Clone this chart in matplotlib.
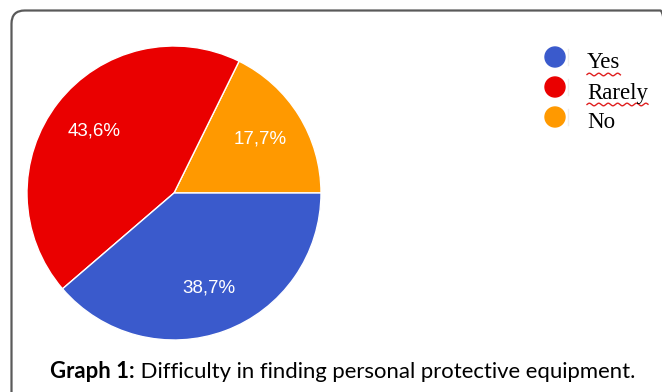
import numpy as np
import matplotlib.pyplot as plt
from matplotlib.patches import FancyBboxPatch, Ellipse

# данные
labels = ['No', 'Rarely', 'Yes']
values = [17.7, 43.6, 38.7]
colors = ['#ff9900', '#ea0000', '#3a5acc']
legend_order = ['Yes', 'Rarely', 'No']
caption_bold = 'Graph 1:'
caption_text = ' Difficulty in finding personal protective equipment.'

W, H = 662, 392
fig = plt.figure(figsize=(W / 100, H / 100), dpi=100)

# рамка со скругленным углом
frame = FancyBboxPatch((11.5 / W, -0.2), 1.0, (H - 10.5) / H + 0.2,
                       boxstyle='round,pad=0,rounding_size=0.02',
                       transform=fig.transFigure, fill=False,
                       edgecolor='#5a5a5a', linewidth=1.6, mutation_aspect=W / H)
fig.patches.append(frame)

# круговая диаграмма
cx, cy, r = 174, 193, 147
ax = fig.add_axes([(cx - r) / W, (H - cy - r) / H, 2 * r / W, 2 * r / H])
wedges, texts, autotexts = ax.pie(
    values, colors=colors, startangle=0, counterclock=True,
    autopct=lambda p: f'{p:.1f}%'.replace('.', ','), pctdistance=0.69,
    wedgeprops=dict(edgecolor='white', linewidth=1.0),
    textprops=dict(color='white', fontsize=13.5, family='Liberation Sans'))
ax.set_xlim(-1, 1)
ax.set_ylim(-1, 1)
ax.set_aspect('equal')
ax.axis('off')

# легенда
color_of = dict(zip(labels, colors))
leg_y = [57, 87, 117]
fig.canvas.draw()
renderer = fig.canvas.get_renderer()
for name, y in zip(legend_order, leg_y):
    fig.patches.append(Ellipse((555 / W, 1 - y / H), 20 / W, 20 / H,
                               transform=fig.transFigure, color=color_of[name]))
    fig.add_artist(plt.Line2D([568 / W, 568 / W], [1 - (y - 8) / H, 1 - (y + 8) / H],
                              color='#eeeeee', linewidth=1))
    t = fig.text(587 / W, 1 - (y + 6) / H, name, family='Liberation Serif',
                 fontsize=16.5, va='center', ha='left', color='black')
    if name in ('Yes', 'Rarely'):
        bb = t.get_window_extent(renderer)
        xs = np.linspace(bb.x0, bb.x1, 200)
        ys = bb.y0 - 1 + 1.3 * np.sin((xs - bb.x0) / 1.5)
        fig.add_artist(plt.Line2D(xs / W, ys / H, color='#e02020', linewidth=1.0))

# подпись
tb = fig.text(50 / W, 1 - 378 / H, caption_bold, family='Lato', fontsize=15.9,
              fontweight='bold', va='baseline', ha='left')
bb = tb.get_window_extent(renderer)
fig.text(bb.x1 / W, 1 - 378 / H, caption_text, family='Lato', fontsize=15.9,
         va='baseline', ha='left')

fig.savefig('out.png', dpi=100)
